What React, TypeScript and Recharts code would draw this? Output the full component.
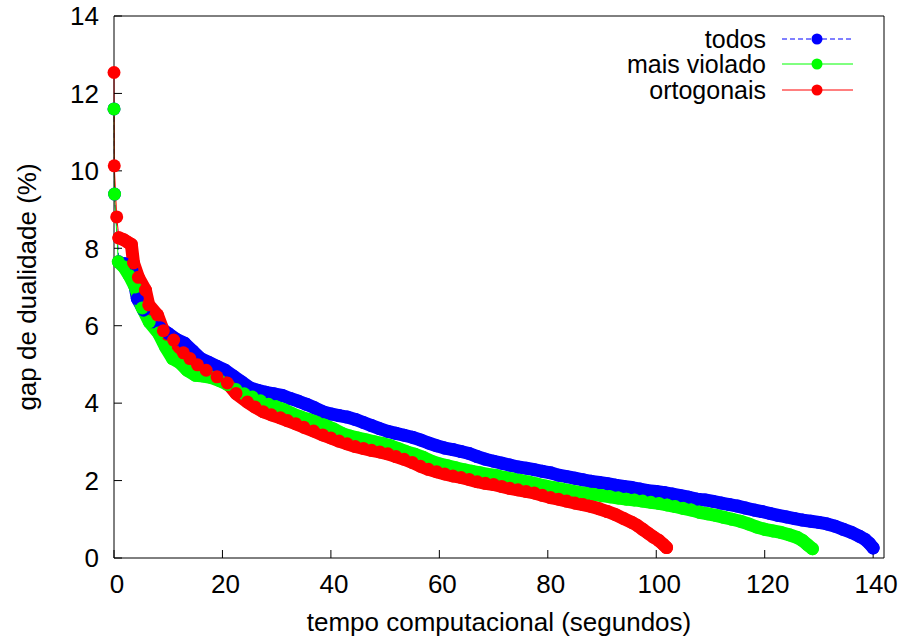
import React from 'react';
import { LineChart, Line, XAxis, YAxis } from 'recharts';

// tempo (s) x gap (%)
const todosTempo = [0, 0.1, 0.9, 2, 3.3, 4.3, 5.5, 7, 8.5, 10, 11.5, 13, 14.5, 16, 17.5, 19, 20.5, 22, 23.5, 25, 26.5, 28, 29.5, 31, 32.5, 34, 35.5, 37, 38.5, 40, 41.5, 43, 44.5, 46, 47.5, 49, 50.5, 52, 53.5, 55, 56.5, 58, 59.5, 61, 62.5, 64, 65.5, 67, 68.5, 70, 71.5, 73, 74.5, 76, 77.5, 79, 80.5, 82, 83.5, 85, 86.5, 88, 89.5, 91, 92.5, 94, 95.5, 97, 98.5, 100, 101.5, 103, 104.5, 106, 107.5, 109, 110.5, 112, 113.5, 115, 116.5, 118, 119.5, 121, 122.5, 124, 125.5, 127, 128.5, 130, 131.5, 133, 134.5, 136, 137.5, 138.5, 139.3, 140];
const todosGap = [11.6, 9.4, 7.65, 7.6, 7.45, 6.7, 6.4, 6.1, 5.95, 5.8, 5.65, 5.55, 5.35, 5.15, 5.05, 4.95, 4.85, 4.7, 4.55, 4.4, 4.33, 4.28, 4.24, 4.2, 4.12, 4.05, 3.97, 3.88, 3.78, 3.72, 3.68, 3.64, 3.58, 3.5, 3.42, 3.34, 3.27, 3.22, 3.17, 3.12, 3.05, 2.97, 2.9, 2.84, 2.8, 2.75, 2.7, 2.62, 2.55, 2.5, 2.45, 2.4, 2.35, 2.32, 2.28, 2.24, 2.2, 2.14, 2.1, 2.06, 2.02, 1.98, 1.95, 1.92, 1.88, 1.85, 1.82, 1.78, 1.74, 1.72, 1.69, 1.65, 1.61, 1.57, 1.52, 1.5, 1.46, 1.42, 1.38, 1.34, 1.29, 1.24, 1.2, 1.15, 1.1, 1.06, 1.02, 0.98, 0.95, 0.92, 0.88, 0.82, 0.74, 0.66, 0.56, 0.48, 0.38, 0.26];

const violadoTempo = [0, 0.1, 0.8, 1.8, 2.8, 3.9, 5.2, 6.5, 8.2, 9.5, 10.8, 12.2, 13.5, 15, 16.5, 18, 19.5, 21, 22.5, 24, 25.5, 27, 28.5, 30, 31.5, 33, 34.5, 36, 37.5, 39, 40.5, 42, 43.5, 45, 46.5, 48, 49.5, 51, 52.5, 54, 55.5, 57, 58.5, 60, 61.5, 63, 64.5, 66, 67.5, 69, 70.5, 72, 73.5, 75, 76.5, 78, 79.5, 81, 82.5, 84, 85.5, 87, 88.5, 90, 91.5, 93, 94.5, 96, 97.5, 99, 100.5, 102, 103.5, 105, 106.5, 108, 109.5, 111, 112.5, 114, 115.5, 117, 118.5, 120, 121.5, 123, 124.5, 126, 127, 128, 128.8];
const violadoGap = [11.6, 9.4, 7.65, 7.52, 7.3, 7.0, 6.46, 6.1, 5.81, 5.45, 5.15, 5.04, 4.85, 4.72, 4.7, 4.66, 4.58, 4.48, 4.35, 4.24, 4.16, 4.06, 3.97, 3.9, 3.82, 3.72, 3.64, 3.57, 3.5, 3.42, 3.33, 3.22, 3.15, 3.1, 3.05, 3.0, 2.96, 2.9, 2.82, 2.74, 2.68, 2.6, 2.5, 2.43, 2.38, 2.33, 2.28, 2.24, 2.2, 2.16, 2.13, 2.08, 2.04, 2.0, 1.96, 1.91, 1.86, 1.82, 1.78, 1.74, 1.7, 1.67, 1.64, 1.61, 1.58, 1.55, 1.52, 1.5, 1.47, 1.44, 1.41, 1.37, 1.33, 1.28, 1.24, 1.18, 1.14, 1.1, 1.05, 1.0, 0.95, 0.88, 0.8, 0.74, 0.7, 0.66, 0.6, 0.53, 0.45, 0.33, 0.24];

const ortoTempo = [0, 0.05, 0.5, 0.9, 1.8, 2.6, 3.2, 3.6, 4.5, 5.8, 6.4, 8, 9.1, 11, 12.8, 14, 15.4, 17, 19, 20.9, 22.5, 24.6, 26, 27.5, 29, 30.7, 32, 33.5, 35, 36.8, 38.5, 40, 41.5, 43, 44.5, 46, 47.5, 49, 50.5, 52, 53.5, 55, 56.5, 58, 59.5, 61, 62.5, 64, 65.5, 67, 68.5, 70, 71.5, 73, 74.5, 76, 77.5, 79, 80.5, 82, 83.5, 85, 86.5, 88, 89.5, 91, 92.5, 94, 95.5, 96.5, 97.5, 98.5, 99.5, 100.5, 101.3, 101.9];
const ortoGap = [12.54, 10.13, 8.81, 8.27, 8.22, 8.15, 8.1, 7.62, 7.25, 6.92, 6.54, 6.28, 5.87, 5.63, 5.3, 5.15, 4.99, 4.85, 4.68, 4.52, 4.25, 4.03, 3.9, 3.78, 3.7, 3.62, 3.55, 3.47, 3.38, 3.28, 3.18, 3.1, 3.02, 2.95, 2.88, 2.83, 2.78, 2.74, 2.69, 2.62, 2.55, 2.47, 2.37, 2.29, 2.23, 2.17, 2.12, 2.08, 2.03, 1.97, 1.93, 1.9, 1.85, 1.8, 1.76, 1.72, 1.68, 1.62, 1.56, 1.52, 1.47, 1.42, 1.38, 1.33, 1.27, 1.2, 1.12, 1.02, 0.92, 0.84, 0.74, 0.64, 0.54, 0.45, 0.35, 0.27];

const xTicks = [0, 20, 40, 60, 80, 100, 120, 140];
const yTicks = [0, 2, 4, 6, 8, 10, 12, 14];

const toPoints = (xs: number[], ys: number[]) => xs.map((x, i) => ({ x, y: ys[i] }));

// bandFrom: where the points start to overlap into a solid band
const series = [
  { name: 'todos', color: '#0000ff', dash: '5 3', bandFrom: 2, data: toPoints(todosTempo, todosGap) },
  { name: 'mais violado', color: '#00ff00', dash: undefined, bandFrom: 0.8, data: toPoints(violadoTempo, violadoGap) },
  { name: 'ortogonais', color: '#ff0000', dash: undefined, bandFrom: 0.9, data: toPoints(ortoTempo, ortoGap) },
];

const FONT = '"Liberation Sans", Arial, Helvetica, sans-serif';
const FS = 26;

const LegendBox = () => (
  <div style={{ position: 'absolute', top: 26, left: 560, width: 293, fontFamily: FONT, fontSize: 25, color: '#000' }}>
    {series.map((s) => (
      <div key={s.name} style={{ display: 'flex', alignItems: 'center', justifyContent: 'flex-end', height: 25.5 }}>
        <span style={{ lineHeight: '24px' }}>{s.name}</span>
        <svg width={71} height={20} style={{ marginLeft: 16 }}>
          <line x1={0} y1={10} x2={71} y2={10} stroke={s.color} strokeWidth={1} strokeDasharray={s.dash} />
          <circle cx={35} cy={10} r={5.5} fill={s.color} />
        </svg>
      </div>
    ))}
  </div>
);

export default function App() {
  return (
    <div style={{ position: 'absolute', left: 0, top: 0, width: 900, height: 641, background: '#fff' }}>
      <LineChart width={900} height={641} margin={{ top: 15, right: 15, bottom: 0, left: 0 }}>
        <XAxis
          dataKey="x"
          type="number"
          domain={[0, 142]}
          ticks={xTicks}
          allowDuplicatedCategory={false}
          height={83}
          stroke="#000"
          tickSize={-8}
          tickMargin={25}
          tick={{ fill: '#000', fontSize: FS, fontFamily: FONT, dx: 3 }}
          label={({ viewBox }: any) => (
            <text x={viewBox.x + viewBox.width / 2} y={viewBox.y + 73} textAnchor="middle" fontSize={FS} fontFamily={FONT} fill="#000">
              tempo computacional (segundos)
            </text>
          )}
        />
        <XAxis xAxisId="top" orientation="top" dataKey="x" type="number" domain={[0, 142]} ticks={xTicks} height={1} stroke="#000" tickSize={-8} tick={false} />
        <YAxis
          type="number"
          domain={[0, 14]}
          ticks={yTicks}
          width={114}
          stroke="#000"
          tickSize={-8}
          tickMargin={23}
          tick={{ fill: '#000', fontSize: FS, fontFamily: FONT }}
          label={({ viewBox }: any) => {
            const cx = viewBox.x + 27;
            const cy = viewBox.y + viewBox.height / 2;
            return (
              <text x={cx} y={cy} transform={`rotate(-90 ${cx} ${cy})`} textAnchor="middle" dominantBaseline="central" fontSize={FS} fontFamily={FONT} fill="#000">
                gap de dualidade (%)
              </text>
            );
          }}
        />
        <YAxis yAxisId="right" orientation="right" type="number" domain={[0, 14]} ticks={yTicks} width={1} stroke="#000" tickSize={-8} tick={false} />
        {series.flatMap((s) => [
          <Line
            key={s.name}
            name={s.name}
            data={s.data}
            dataKey="y"
            stroke={s.color}
            strokeWidth={1}
            strokeDasharray={s.dash}
            dot={{ r: 6.5, fill: s.color, stroke: 'none' }}
            activeDot={false}
            isAnimationActive={false}
          />,
          <Line
            key={s.name + '-band'}
            data={s.data.filter((p) => p.x >= s.bandFrom)}
            dataKey="y"
            stroke={s.color}
            strokeWidth={13}
            strokeLinecap="round"
            strokeLinejoin="round"
            dot={false}
            activeDot={false}
            legendType="none"
            isAnimationActive={false}
          />,
        ])}
      </LineChart>
      <LegendBox />
    </div>
  );
}
